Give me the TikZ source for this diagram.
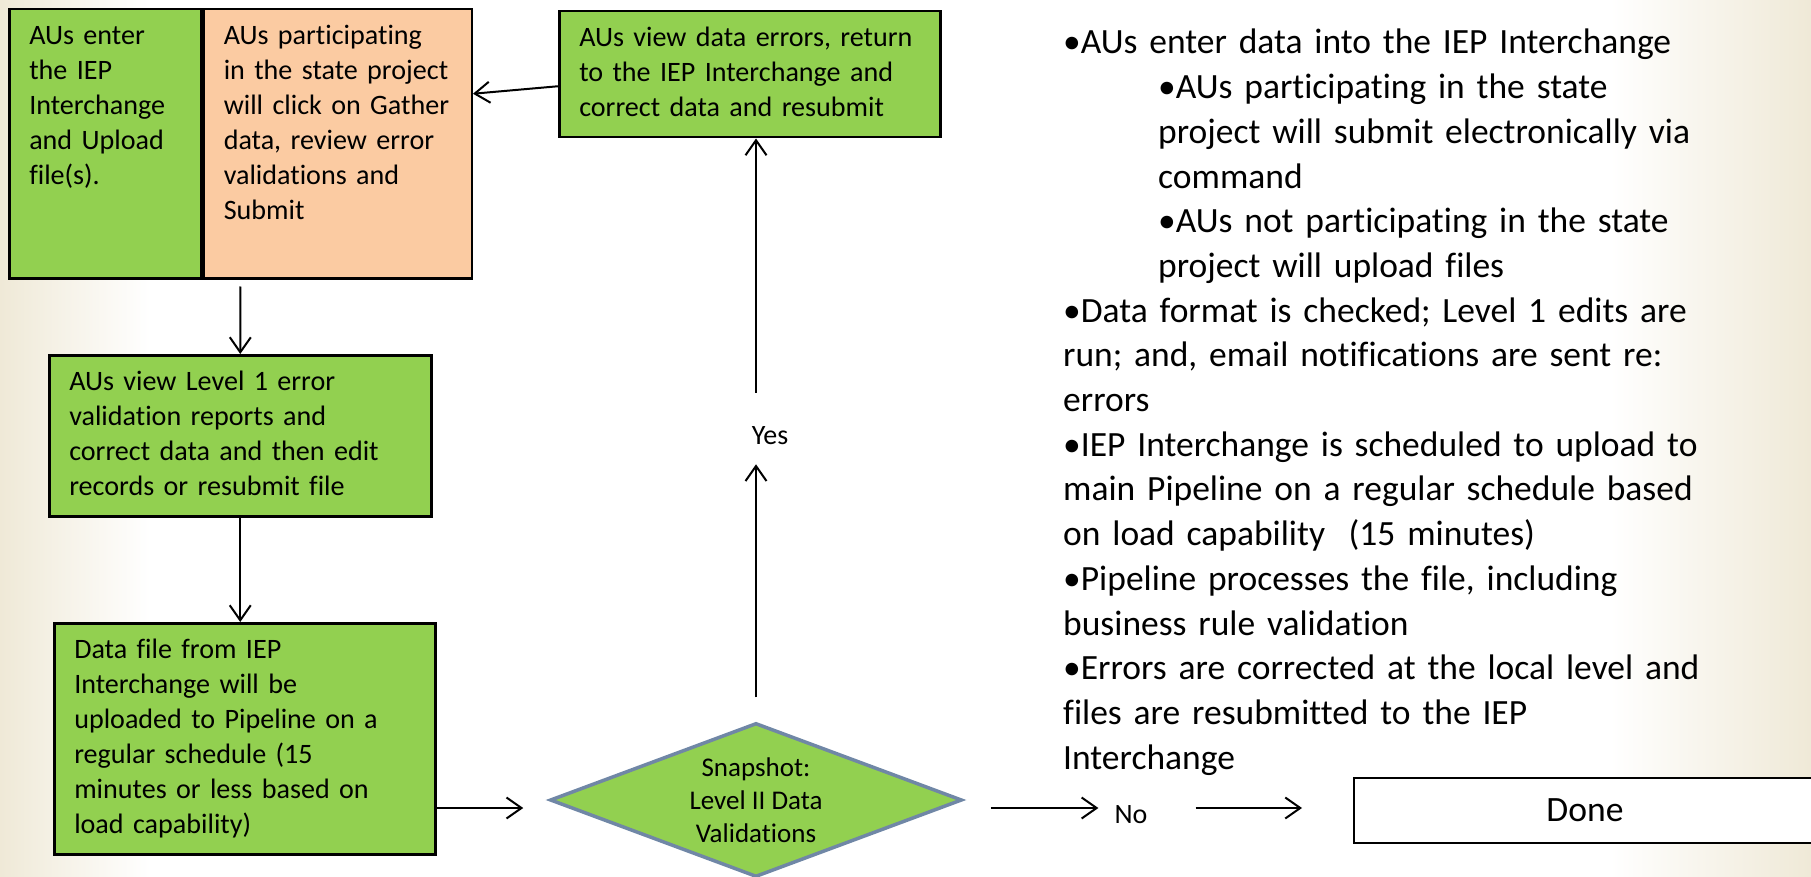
\documentclass[tikz,border=0pt]{standalone}
\usepackage{fontspec}
\setmainfont{Carlito}[Ligatures=NoCommon]
\usetikzlibrary{shapes.geometric, arrows.meta, calc}
\definecolor{boxgreen}{HTML}{92D050}
\definecolor{peach}{HTML}{FBCBA2}
\definecolor{slate}{HTML}{7087A6}
\definecolor{cream}{HTML}{EFE9D7}
\newcommand{\boxfont}{\fontsize{28.1}{35}\selectfont}
\newcommand{\notefont}{\fontsize{35.5}{44.7}\selectfont}
\tikzset{
  box/.style={draw, line width=2.5pt, fill=boxgreen, anchor=north west,
    inner xsep=20pt, inner ysep=10pt, text height=25pt, align=left, font=\boxfont},
  decision/.style={diamond, draw=slate, line width=3.5pt, fill=boxgreen,
    minimum width=412pt, minimum height=154pt, aspect=2.6, inner sep=0pt,
    align=center, font=\fontsize{27}{33}\selectfont},
  tag/.style={inner sep=0pt, font=\fontsize{28}{34}\selectfont},
  flow/.style={->, line width=2pt},
  >={Straight Barb[length=15pt, width=21pt]}
}
\begin{document}
\begin{tikzpicture}[x=1pt, y=-1pt]
\useasboundingbox (0,0) rectangle (1811,877);
% background
\fill[white] (0,0) rectangle (1811,877);
\shade[left color=cream, right color=white] (0,0) rectangle (150,877);
\shade[left color=white, right color=cream] (1610,0) rectangle (1811,877);

% boxes
\node[box, text width=152pt, text depth=224pt] (enter) at (8,8)
  {AUs enter\\the IEP\\Interchange\\and Upload\\file(s).};
\node[box, fill=peach, text width=228pt, text depth=224pt] (gather) at (enter.north east)
  {AUs participating\\in the state project\\will click on Gather\\data, review error\\validations and\\Submit};
\node[box, text width=341pt, text depth=81pt] (errors) at (558,10)
  {AUs view data errors, return\\to the IEP Interchange and\\correct data and resubmit};
\node[box, text width=342pt, text depth=116pt] (view) at (48,354)
  {AUs view Level 1 error\\validation reports and\\correct data and then edit\\records or resubmit file};
\node[box, text width=341pt, text depth=186pt] (data) at (53,622)
  {Data file from IEP\\Interchange will be\\uploaded to Pipeline on a\\regular schedule (15\\minutes or less based on\\load capability)};
\node[decision] (snap) at (756,800) {Snapshot:\\Level II Data\\Validations};
\node[tag] (yes) at (770,436) {Yes};
\node[tag] (no) at (1131,815) {No};
\node[draw, line width=2pt, fill=white, anchor=north west, minimum width=462pt,
  minimum height=65pt, font=\fontsize{35.6}{40}\selectfont] (done) at (1353,777) {Done};
\coordinate (lvl) at (0,808);

% notes
\node[anchor=base west, text width=720pt, align=left, inner sep=0pt, font=\notefont] (notes) at (1063,54)
  {•AUs enter data into the IEP Interchange\\
   \hspace*{95pt}•AUs participating in the state\\
   \hspace*{95pt}project will submit electronically via\\
   \hspace*{95pt}command\\
   \hspace*{95pt}•AUs not participating in the state\\
   \hspace*{95pt}project will upload files\\
   •Data format is checked; Level 1 edits are\\
   run; and, email notifications are sent re:\\
   errors\\
   •IEP Interchange is scheduled to upload to\\
   main Pipeline on a regular schedule based\\
   on load capability\ \ (15 minutes)\\
   •Pipeline processes the file, including\\
   business rule validation\\
   •Errors are corrected at the local level and\\
   files are resubmitted to the IEP\\
   Interchange};

% arrows
\draw[flow] ([yshift=-12pt]errors.west) -- ([yshift=50pt]gather.east);
\draw[flow, shorten <=7pt] ($(enter.south west)!0.5!(gather.south east)$) -- (view.north);
\draw[flow] (view.south) -- (view.south |- data.north);
\draw[flow, shorten >=25pt] (data.east |- lvl) -- (snap.west |- lvl);
\draw[flow, shorten <=24pt, shorten >=19pt] (snap.north) -- (snap.north |- yes.south);
\draw[flow, shorten <=34pt] (snap.north |- yes.north) -- (snap.north |- errors.south);
\draw[flow, shorten <=27pt, shorten >=16pt] (snap.east |- lvl) -- (no.west |- lvl);
\draw[flow, shorten <=48pt, shorten >=51pt] (no.east |- lvl) -- (done.west |- lvl);

\end{tikzpicture}
\end{document}
